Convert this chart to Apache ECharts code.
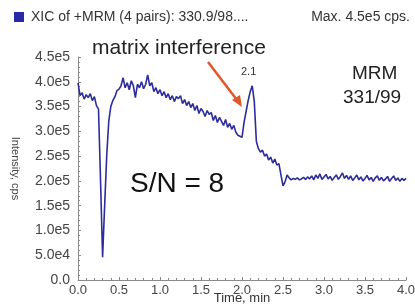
<!DOCTYPE html>
<html>
<head>
<meta charset="utf-8">
<script src="https://cdn.jsdelivr.net/npm/echarts@6/dist/echarts.min.js"></script>
<style>
  html, body { margin: 0; padding: 0; background: #fff; }
  #main { width: 415px; height: 308px; }
</style>
</head>
<body>
<div id="main"></div>
<script>
// trace sampled every 0.025 min, values in thousands of cps
const tStart = 0;
const tStep = 0.025;
const intensity = [
  398, 372, 378, 365, 374, 368, 376, 362, 370, 352,
  345, 200, 46, 150, 250, 320, 350, 362, 370, 382,
  385, 392, 408, 388, 398, 384, 402, 392, 368, 395,
  388, 400, 386, 395, 414, 392, 398, 380, 388, 376,
  384, 372, 380, 368, 376, 364, 372, 360, 370, 366,
  372, 356, 364, 352, 360, 348, 356, 342, 352, 336,
  346, 340, 330, 342, 334, 338, 322, 332, 318, 328,
  320, 312, 324, 308, 316, 304, 312, 298, 292, 290,
  288, 318, 340, 362, 380, 392, 360, 280, 265, 258,
  262, 250, 254, 242, 248, 236, 244, 232, 235, 212,
  190, 198, 212, 206, 202, 205, 203, 206, 202, 204,
  207, 203, 208, 204, 210, 202, 212, 205, 214, 203,
  208, 213, 204, 209, 201, 207, 212, 203, 209, 216,
  205, 211, 203, 210, 201, 206, 212, 202, 208, 200,
  205, 211, 202, 207, 199, 206, 210, 201, 207, 200,
  204, 209, 199, 205, 210, 201, 206, 199, 205, 201,
  205
];
const yTickLabels = ['0.0', '5.0e4', '1.0e5', '1.5e5', '2.0e5', '2.5e5', '3.0e5', '3.5e5', '4.0e5', '4.5e5'];
const xTicks = ['0.0', '0.5', '1.0', '1.5', '2.0', '2.5', '3.0', '3.5', '4.0'];

const seriesData = intensity.map((v, i) => [tStart + i * tStep, v]);

const chart = echarts.init(document.getElementById('main'));
const axisGray = '#8a8a8a';
const font = '"Liberation Sans", Arial, sans-serif';

chart.setOption({
  animation: false,
  grid: { left: 78, right: 9, top: 57, bottom: 28, outerBoundsMode: 'none', containLabel: false },
  xAxis: {
    type: 'value', min: 0, max: 4, interval: 0.5,
    name: 'Time, min', nameLocation: 'middle', nameGap: 12, nameMoveOverlap: false,
    nameTextStyle: { fontFamily: font, fontSize: 13, color: '#333', verticalAlign: 'top' },
    axisLine: { lineStyle: { color: axisGray } },
    axisTick: { inside: true, length: 3, lineStyle: { color: axisGray } },
    minorTick: { show: true, splitNumber: 5, length: 2, lineStyle: { color: axisGray } },
    splitLine: { show: false },
    axisLabel: { fontFamily: font, fontSize: 13, color: '#444', margin: 4,
      formatter: v => xTicks[Math.round(v / 0.5)] }
  },
  yAxis: {
    type: 'value', min: 0, max: 450, interval: 50,
    name: 'Intensity, cps', nameLocation: 'middle', nameGap: 57, nameRotate: -90,
    nameTextStyle: { fontFamily: font, fontSize: 11, color: '#444' },
    axisLine: { show: true, lineStyle: { color: axisGray } },
    axisTick: { show: true, inside: true, length: 3, lineStyle: { color: axisGray } },
    minorTick: { show: true, splitNumber: 5, length: 2, lineStyle: { color: axisGray } },
    splitLine: { show: false },
    axisLabel: { fontFamily: font, fontSize: 14, color: '#444', margin: 8,
      formatter: v => yTickLabels[Math.round(v / 50)] }
  },
  series: [{
    type: 'line',
    data: seriesData,
    showSymbol: false,
    lineStyle: { color: '#2c2c9c', width: 1.6 }
  }],
  graphic: [
    { type: 'rect', shape: { x: 14, y: 12, width: 10, height: 10 }, style: { fill: '#2a2aa8' } },
    { type: 'text', left: 31, top: 10, style: { text: 'XIC of +MRM (4 pairs): 330.9/98....', font: '14px ' + font, fill: '#333' } },
    { type: 'text', right: 5, top: 10, style: { text: 'Max. 4.5e5 cps.', font: '14px ' + font, fill: '#333' } },
    { type: 'text', left: 92, top: 38, style: { text: 'matrix interference', font: '21px ' + font, fill: '#222' } },
    { type: 'text', left: 352, top: 64, style: { text: 'MRM', font: '19px ' + font, fill: '#222' } },
    { type: 'text', left: 343, top: 88, style: { text: '331/99', font: '19px ' + font, fill: '#222' } },
    { type: 'text', left: 130, top: 170, style: { text: 'S/N = 8', font: '28px ' + font, fill: '#111' } },
    { type: 'text', left: 241, top: 66, style: { text: '2.1', font: '11px ' + font, fill: '#333' } },
    { type: 'line', shape: { x1: 208, y1: 62, x2: 237, y2: 100 }, style: { stroke: '#e0582a', lineWidth: 2.5 } },
    { type: 'polygon', shape: { points: [[242, 107], [232, 100], [240, 95]] }, style: { fill: '#e0582a' } }
  ]
});
</script>
</body>
</html>
